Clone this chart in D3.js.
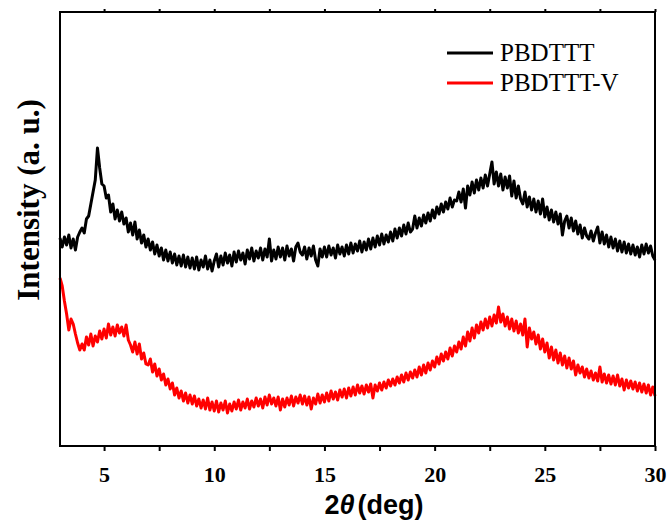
<!DOCTYPE html>
<html>
<head>
<meta charset="utf-8">
<script src="https://cdn.jsdelivr.net/npm/d3@7/dist/d3.min.js"></script>
<style>
  body { margin: 0; background: #fff; }
  svg { display: block; }
</style>
</head>
<body>
<div id="chart"></div>
<script>
// XRD scans, 2theta from 3 to 30 deg, step 0.1 deg (arbitrary intensity units)
const startAngle = 3;
const stepAngle = 0.1;

const pbdttt = [
  208, 199, 209, 201, 211, 198, 207, 196, 209, 214,
  218, 213, 227, 230, 242, 254, 266, 298, 278, 262,
  260, 248, 251, 234, 242, 227, 236, 225, 234, 222,
  228, 214, 223, 211, 224, 207, 216, 203, 211, 199,
  207, 196, 204, 192, 201, 190, 198, 186, 196, 185,
  194, 183, 192, 181, 190, 180, 191, 179, 189, 178,
  188, 177, 189, 176, 186, 179, 190, 177, 186, 175,
  185, 192, 179, 190, 181, 193, 183, 191, 180, 194,
  184, 195, 186, 193, 182, 196, 187, 198, 185, 195,
  188, 198, 186, 197, 189, 207, 185, 196, 187, 199,
  189, 198, 186, 200, 190, 197, 185, 199, 203, 194,
  191, 199, 187, 198, 190, 200, 186, 180, 197, 189,
  199, 189, 200, 191, 198, 188, 201, 192, 199, 190,
  201, 192, 203, 193, 202, 195, 205, 194, 204, 196,
  207, 197, 208, 199, 210, 201, 212, 202, 211, 204,
  214, 205, 217, 208, 218, 210, 221, 212, 223, 214,
  217, 230, 218, 228, 220, 231, 223, 233, 225, 236,
  228, 239, 232, 242, 234, 244, 237, 248, 239, 246,
  245, 254, 244, 257, 238, 260, 251, 264, 253, 266,
  256, 268, 258, 271, 260, 272, 284, 262, 274, 260,
  272, 256, 269, 258, 270, 250, 265, 248, 260, 247,
  242, 254, 239, 249, 236, 247, 234, 245, 232, 247,
  229, 239, 226, 236, 224, 234, 222, 232, 211, 225,
  230, 218, 228, 215, 225, 212, 221, 208, 218, 210,
  207, 215, 205, 213, 219, 203, 214, 202, 211, 199,
  209, 198, 207, 195, 205, 194, 204, 193, 202, 192,
  201, 191, 199, 189, 201, 192, 202, 193, 200, 190, 186
];

const pbdtttV = [
  168, 160, 145, 132, 116, 127, 122, 112, 103, 96,
  102, 96, 109, 101, 112, 100, 110, 104, 115, 107,
  117, 108, 122, 111, 119, 110, 121, 113, 119, 110,
  121, 106, 101, 94, 104, 92, 102, 87, 93, 82,
  81, 87, 74, 82, 70, 77, 66, 72, 61, 67,
  57, 63, 51, 58, 48, 55, 45, 53, 43, 51,
  42, 50, 40, 47, 38, 46, 37, 48, 36, 44,
  35, 45, 34, 43, 36, 45, 33, 42, 35, 44,
  37, 46, 36, 44, 38, 47, 37, 45, 39, 48,
  40, 47, 38, 49, 41, 51, 42, 48, 40, 49,
  36, 47, 39, 48, 41, 50, 40, 49, 43, 51,
  42, 50, 41, 49, 37, 48, 42, 52, 43, 51,
  44, 53, 45, 55, 47, 54, 46, 56, 49, 57,
  48, 58, 50, 59, 51, 61, 53, 60, 52, 61,
  54, 62, 48, 61, 55, 63, 56, 64, 58, 66,
  60, 67, 61, 69, 63, 71, 64, 73, 66, 74,
  68, 76, 69, 79, 71, 81, 73, 83, 76, 85,
  79, 89, 82, 92, 85, 94, 87, 98, 90, 100,
  94, 104, 97, 109, 100, 114, 105, 118, 108, 121,
  113, 124, 116, 127, 118, 129, 120, 131, 123, 139,
  124, 132, 120, 129, 117, 127, 115, 125, 113, 122,
  111, 127, 99, 118, 107, 114, 102, 111, 97, 107,
  94, 103, 88, 99, 86, 96, 83, 93, 81, 90,
  78, 88, 77, 85, 71, 81, 73, 79, 69, 77,
  68, 75, 66, 73, 65, 79, 64, 72, 63, 71,
  62, 70, 61, 71, 60, 67, 56, 66, 58, 65,
  57, 64, 55, 63, 54, 62, 53, 61, 51, 59, 50
];

const seriesNames = ['PBDTTT', 'PBDTTT-V'];
const seriesColors = ['#000000', '#ff0000'];
const xTicks = [5, 10, 15, 20, 25, 30];
const xMinorTicks = [7.5, 12.5, 17.5, 22.5, 27.5];

const W = 671, H = 530;
const margin = { top: 12, right: 16, bottom: 84, left: 60 };

const svg = d3.select('#chart').append('svg')
  .attr('width', W)
  .attr('height', H);

const x = d3.scaleLinear().domain([3, 30]).range([margin.left, W - margin.right]);
const y = d3.scaleLinear().domain([0, 434]).range([H - margin.bottom, margin.top]);

const toPoints = arr => arr.map((v, i) => [startAngle + i * stepAngle, v]);

const line = d3.line()
  .x(d => x(d[0]))
  .y(d => y(d[1]));

svg.append('g')
  .selectAll('path')
  .data([pbdttt, pbdtttV])
  .join('path')
  .attr('d', d => line(toPoints(d)))
  .attr('fill', 'none')
  .attr('stroke', (d, i) => seriesColors[i])
  .attr('stroke-width', 3)
  .attr('stroke-linejoin', 'round');

// frame
svg.append('rect')
  .attr('x', margin.left)
  .attr('y', margin.top)
  .attr('width', W - margin.right - margin.left)
  .attr('height', H - margin.bottom - margin.top)
  .attr('fill', 'none')
  .attr('stroke', '#000')
  .attr('stroke-width', 2);

const allTicks = xTicks.concat(xMinorTicks);

const bottomAxis = svg.append('g')
  .attr('transform', `translate(0,${H - margin.bottom})`)
  .call(d3.axisBottom(x).tickValues(allTicks).tickSize(5).tickFormat(d => xTicks.includes(d) ? d : ''));
bottomAxis.select('.domain').remove();
bottomAxis.selectAll('line').attr('stroke-width', 2);
bottomAxis.selectAll('text')
  .attr('y', 20)
  .attr('dy', '0.71em')
  .style('font-family', '"Liberation Serif", "Times New Roman", serif')
  .style('font-weight', 'bold')
  .style('font-size', '22px')
  .attr('fill', '#000');

const topAxis = svg.append('g')
  .attr('transform', `translate(0,${margin.top})`)
  .call(d3.axisTop(x).tickValues(allTicks).tickSize(3).tickFormat(''));
topAxis.select('.domain').remove();
topAxis.selectAll('line').attr('stroke-width', 2);

// axis titles
const xTitle = svg.append('text')
  .attr('x', 374)
  .attr('y', 514)
  .attr('text-anchor', 'middle')
  .style('font-family', '"Liberation Sans", Arial, sans-serif')
  .style('font-weight', 'bold')
  .style('font-size', '27px');
xTitle.append('tspan').text('2');
xTitle.append('tspan').style('font-style', 'italic').text('\u03b8');
xTitle.append('tspan').attr('dx', 3).text('(deg)');

svg.append('text')
  .attr('transform', 'translate(39,200) rotate(-90)')
  .attr('text-anchor', 'middle')
  .style('font-family', '"Liberation Serif", "Times New Roman", serif')
  .style('font-weight', 'bold')
  .style('font-size', '31px')
  .text('Intensity (a. u.)');

// legend
const legend = svg.append('g')
  .selectAll('g')
  .data(seriesNames)
  .join('g')
  .attr('transform', (d, i) => `translate(447,${53 + i * 30})`);
legend.append('line')
  .attr('x1', 0).attr('x2', 46)
  .attr('stroke', (d, i) => seriesColors[i])
  .attr('stroke-width', 3);
legend.append('text')
  .attr('x', 53)
  .attr('y', 8)
  .style('font-family', '"Liberation Serif", "Times New Roman", serif')
  .style('font-size', '25px')
  .text(d => d);
</script>
</body>
</html>
